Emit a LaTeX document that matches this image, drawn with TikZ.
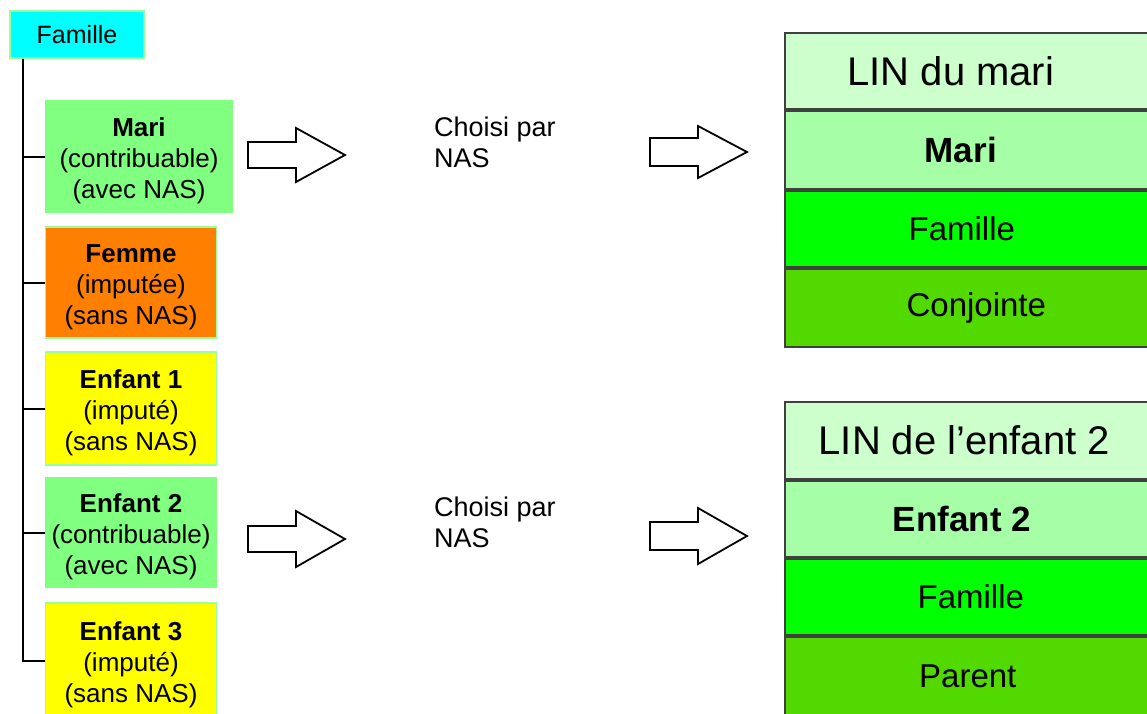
\documentclass[tikz,border=0pt]{standalone}
\usepackage{fontspec}
\setmainfont{Liberation Sans}
\definecolor{cyanc}{HTML}{00FFFF}
\definecolor{lgborder}{HTML}{99FF99}
\definecolor{lgreen}{HTML}{80FF80}
\definecolor{orangec}{HTML}{FF8000}
\definecolor{yellowc}{HTML}{FFFF00}
\definecolor{rowA}{HTML}{CCFFCC}
\definecolor{rowB}{HTML}{A6FFA6}
\definecolor{rowC}{HTML}{00FF00}
\definecolor{rowD}{HTML}{52D900}
\definecolor{rowborder}{HTML}{404040}
\newcommand{\lowr}{\rule{0pt}{27pt}}
\begin{document}
\begin{tikzpicture}[x=1pt,y=-1pt,
  famnode/.style={draw=lgborder, line width=1.2pt, fill=cyanc, minimum width=134pt,
    minimum height=47pt, inner sep=0pt, font=\fontsize{25}{30}\selectfont},
  pbox/.style={fill=#1, minimum width=171pt, minimum height=113pt, inner sep=0pt,
    align=center, font=\fontsize{26}{31}\selectfont},
  bordered/.style={draw=lgborder, line width=1.2pt},
  rowbox/.style={draw=rowborder, line width=1.6pt, fill=#1, minimum width=366pt,
    anchor=north west, inner sep=0pt},
  lintext/.style={font=\fontsize{40}{44}\selectfont},
  rowtext/.style={font=\fontsize{33}{38}\selectfont},
  boldtext/.style={font=\fontsize{35}{40}\selectfont\bfseries},
  blockarrow/.style={draw=black, line width=1.8pt, fill=white, line join=miter},
  trunkline/.style={draw=black, line width=2pt},
  choisi/.style={font=\fontsize{27}{31}\selectfont, align=left, anchor=north west, inner sep=0pt}
]
\useasboundingbox (0,0) rectangle (1147,713);
\clip (0,0) rectangle (1147,713);

% left column
\node[famnode] (fam) at (77,34.5) {Famille};
\node[pbox=lgreen, minimum width=188pt] (mari) at (139,156.5)
  {\lowr\textbf{Mari}\\(contribuable)\\(avec NAS)};
\node[pbox=orangec, bordered, minimum height=111pt] (femme) at (131,282.5)
  {\lowr\textbf{Femme}\\(imputée)\\(sans NAS)};
\node[pbox=yellowc, bordered] (enf1) at (131,408.5)
  {\lowr\textbf{Enfant 1}\\(imputé)\\(sans NAS)};
\node[pbox=lgreen, minimum width=172pt, minimum height=111pt] (enf2) at (131,532.5)
  {\lowr\textbf{Enfant 2}\\(contribuable)\\(avec NAS)};
\node[pbox=yellowc, bordered, minimum height=115pt] (enf3) at (131,660.5)
  {\lowr\textbf{Enfant 3}\\(imputé)\\(sans NAS)};

% tree connectors
\coordinate (trunk) at ([xshift=14pt]fam.south west);
\foreach \n in {mari,femme,enf1,enf2,enf3}
  \draw[trunkline] (trunk) |- (\n.west);

% block arrows (top)
\draw[blockarrow] (248,142) -- (296,142) -- (296,128) -- (345,155) -- (296,182)
  -- (296,168) -- (248,168) -- cycle;
\node[choisi] (ch1) at (434,117) {Choisi par\\NAS};
\draw[blockarrow] (650,138) -- (698,138) -- (698,126) -- (747,152) -- (698,178)
  -- (698,166) -- (650,166) -- cycle;

% block arrows (bottom)
\draw[blockarrow] (248,526) -- (296,526) -- (296,511) -- (345,539) -- (296,567)
  -- (296,552) -- (248,552) -- cycle;
\node[choisi] (ch2) at (434,497) {Choisi par\\NAS};
\draw[blockarrow] (650,522) -- (698,522) -- (698,508) -- (747,536) -- (698,564)
  -- (698,550) -- (650,550) -- cycle;

% right stack (top)
\node[rowbox=rowA, minimum height=76pt, lintext] (lin1) at (784,32)
  {\hspace*{-34pt}LIN du mari};
\node[rowbox=rowB, minimum height=78pt, boldtext] (r1b) at (784,110)
  {\hspace*{-14pt}Mari};
\node[rowbox=rowC, minimum height=76pt, rowtext] (r1c) at (784,190)
  {\hspace*{-12pt}Famille};
\node[rowbox=rowD, minimum height=78pt, rowtext] (r1d) at (784,268)
  {\hspace*{17pt}Conjointe};

% right stack (bottom)
\node[rowbox=rowA, minimum height=77pt, lintext] (lin2) at (784,401)
  {\hspace*{-7pt}LIN de l’enfant 2};
\node[rowbox=rowB, minimum height=76pt, boldtext] (r2b) at (784,480)
  {\hspace*{-12pt}Enfant 2};
\node[rowbox=rowC, minimum height=76pt, rowtext] (r2c) at (784,558)
  {\hspace*{6pt}Famille};
\node[rowbox=rowD, minimum height=78pt, rowtext] (r2d) at (784,636) {Parent};
\end{tikzpicture}
\end{document}
